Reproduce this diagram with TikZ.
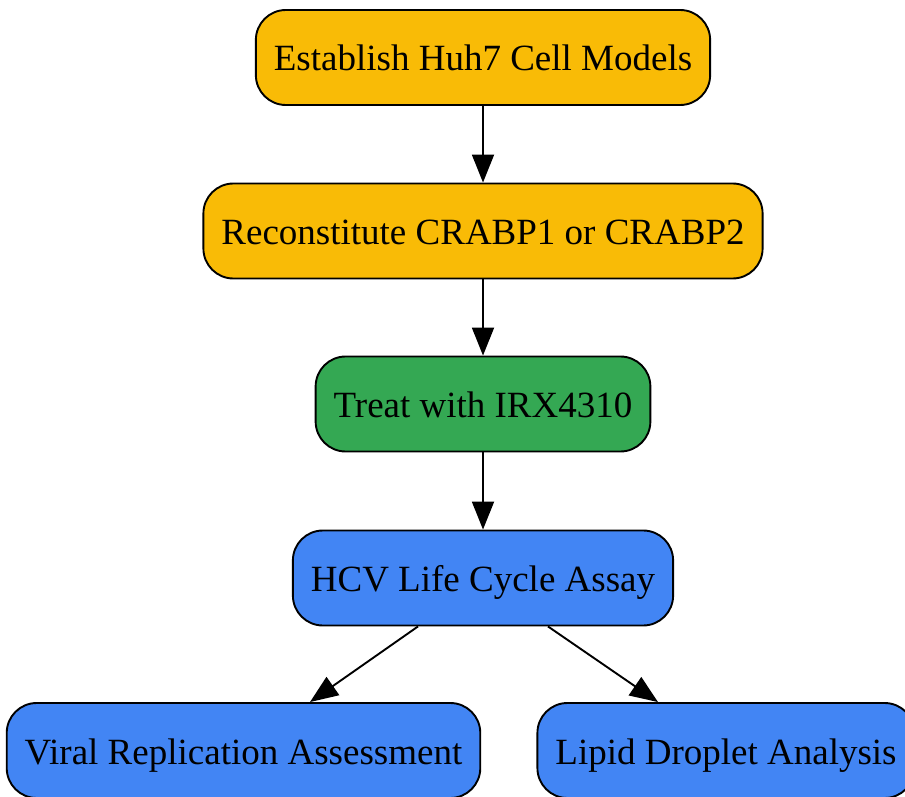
\documentclass[tikz,border=0pt]{standalone}
\usepackage{fontspec}
\setmainfont{Liberation Serif}
\usetikzlibrary{arrows.meta,calc}
\definecolor{gyellow}{HTML}{F9BB06}
\definecolor{ggreen}{HTML}{34A853}
\definecolor{gblue}{HTML}{4285F4}
\begin{document}
\begin{tikzpicture}[x=1pt,y=-1pt,
  box/.style={draw=black,line width=1.9pt,rounded corners=30pt,minimum height=95pt,
    inner xsep=18pt,text height=27pt,text depth=0pt,
    font=\fontsize{37}{44}\selectfont,text=black},
  link/.style={draw=black,line width=1.9pt,-{Triangle[length=28pt,width=22pt]}}]
\clip (0,0) rectangle (905,797);
\fill[white] (0,0) rectangle (905,797);
\node[box,fill=gyellow] (a) at (483,57.5) {Establish Huh7 Cell Models};
\node[box,fill=gyellow] (b) at (483,231) {Reconstitute CRABP1 or CRABP2};
\node[box,fill=ggreen] (c) at (483,404) {Treat with IRX4310};
\node[box,fill=gblue] (d) at (483,578) {HCV Life Cycle Assay};
\node[box,fill=gblue] (e) at (243.5,750.5) {Viral Replication Assessment};
\node[box,fill=gblue] (f) at (726,750.5) {Lipid Droplet Analysis};
\draw[link] (a) -- (b);
\draw[link] (b) -- (c);
\draw[link] (c) -- (d);
\draw[link] ($(d.south)+(-65,0)$) -- ($(e.north)+(66.5,0)$);
\draw[link] ($(d.south)+(65,0)$) -- ($(f.north)+(-68,0)$);
\end{tikzpicture}
\end{document}
